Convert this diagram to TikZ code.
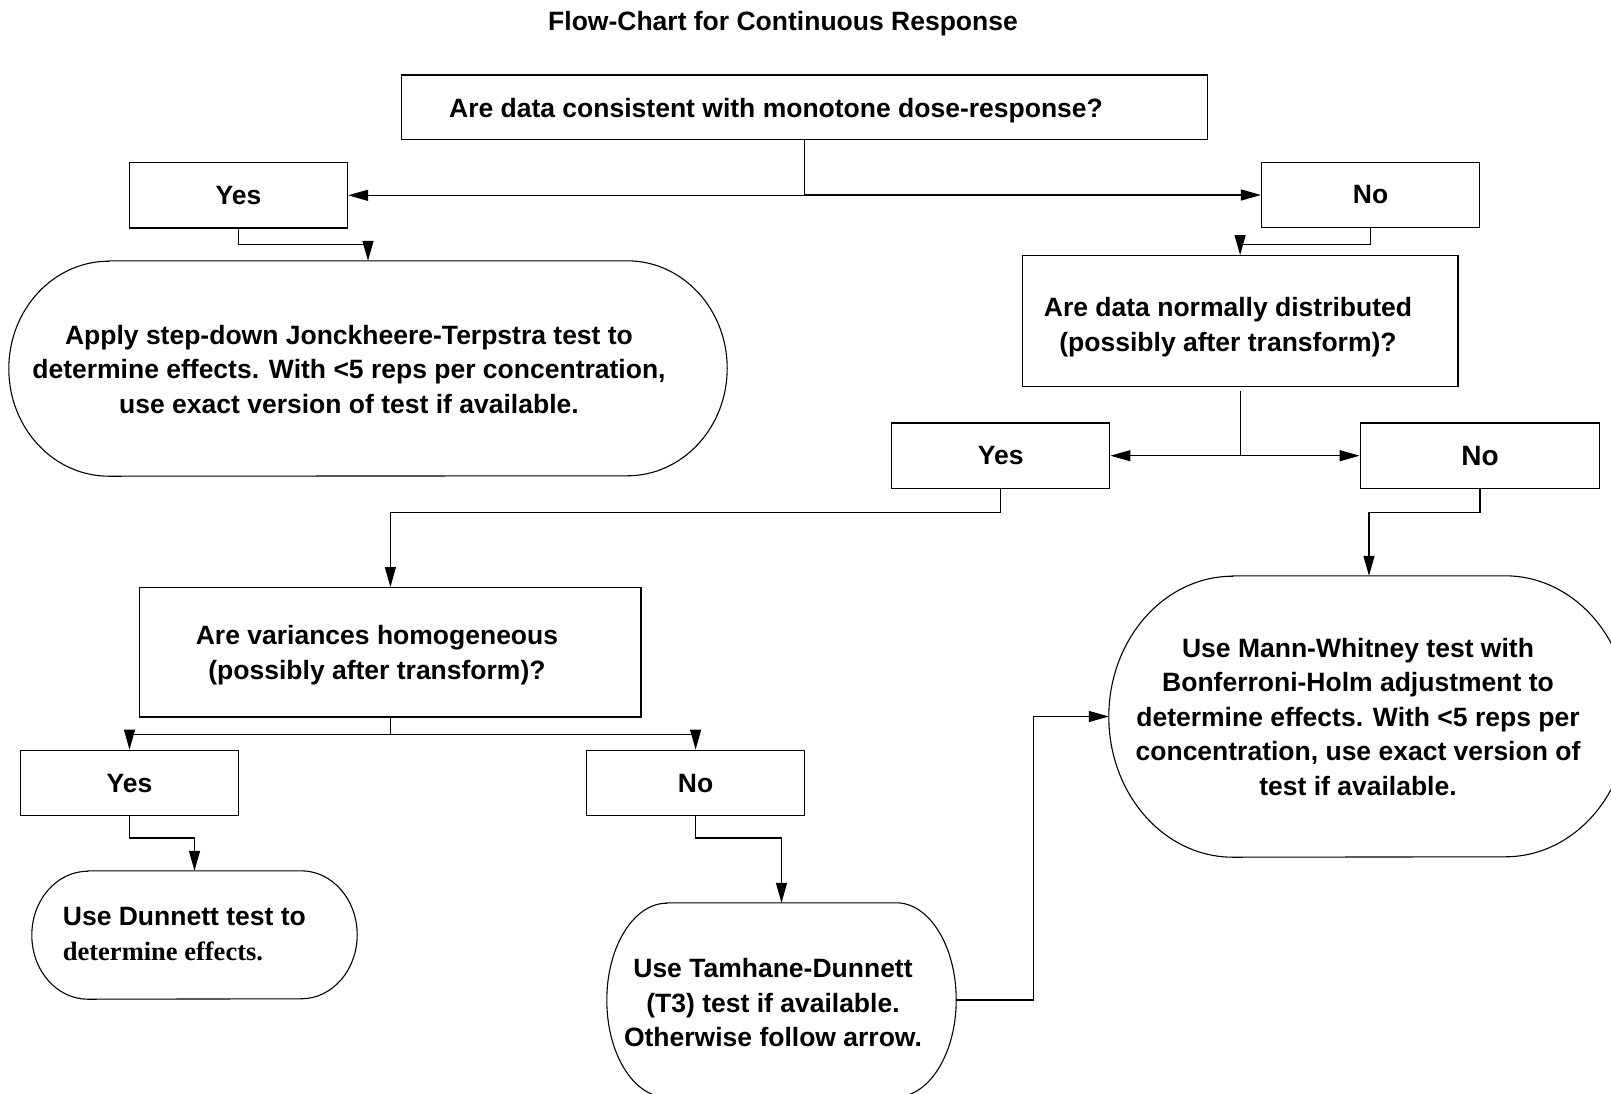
\documentclass[tikz,border=0pt]{standalone}
\usepackage{fontspec}
\setmainfont{Liberation Sans}
\newfontfamily\timesfont{Liberation Serif}
\usetikzlibrary{arrows.meta}
\newcommand\termoutline[3]{% node name, x radius, y radius
  \draw[termline] ([xshift=#2]#1.north west) -- ([xshift=-#2]#1.north east)
    arc[start angle=90,end angle=-90,x radius=#2,y radius=#3]
    -- ([xshift=#2]#1.south west)
    arc[start angle=270,end angle=90,x radius=#2,y radius=#3] -- cycle;}
\begin{document}
\begin{tikzpicture}[x=1pt,y=-1pt,
  txt/.style={font=\fontsize{26.5}{34.5}\selectfont\bfseries, align=center, inner sep=0pt},
  frame/.style={draw, line width=1.3pt, inner sep=0pt},
  yn/.style={frame, minimum width=218pt, minimum height=65.5pt, font=\fontsize{26.5}{34.5}\selectfont\bfseries},
  term/.style={inner sep=0pt},
  termline/.style={line width=1.1pt},
  conn/.style={line width=1.2pt},
  arr/.style={conn, -{Triangle[length=20pt,width=11pt]}},
]
\useasboundingbox (0,0) rectangle (1611,1093);
\clip (0,0) rectangle (1611,1093);
\fill[white] (0,0) rectangle (1611,1093);

% title
\node[txt] (title) at (783,24) {Flow-Chart for Continuous Response};

% top question
\node[frame, minimum width=805.6pt, minimum height=64.7pt] (a) at (804.5,107.4) {};
\node[txt] (atext) at (776,111) {Are data consistent with monotone dose-response?};

\node[yn] (y1) at (238.5,195.3) {Yes};
\node[yn] (n1) at (1370.6,195) {\raisebox{-1pt}{No}};

% Jonckheere terminator
\node[term, minimum width=718pt, minimum height=215pt] (s1) at (368,368.5) {};
\termoutline{s1}{100pt}{107.5pt}
\node[txt] (s1text) at (349,369.5) {Apply step-down Jonckheere-Terpstra test to\\determine effects. With <5 reps per concentration,\\use exact version of test if available.};

% normality question
\node[frame, minimum width=435.6pt, minimum height=130.5pt] (b) at (1240.1,321) {};
\node[txt] (btext) at (1228,327) {Are data normally distributed\\(possibly after transform)?};

\node[yn] (y2) at (1000.7,455.7) {Yes};
\node[yn, minimum width=239.4pt, font=\fontsize{28}{34.5}\selectfont\bfseries] (n2) at (1480,455.7) {No};

% variance question
\node[frame, minimum width=501.4pt, minimum height=129.4pt] (c) at (390.4,652.4) {};
\node[txt] (ctext) at (377,655) {Are variances homogeneous\\(possibly after transform)?};

\node[yn] (y3) at (129.5,783) {Yes};
\node[yn] (n3) at (695.6,783) {No};

% Dunnett terminator
\node[term, minimum width=325pt, minimum height=128pt] (dn) at (194.5,935) {};
\termoutline{dn}{56pt}{64pt}
\node[txt, align=left, anchor=west] (dntext) at (62.7,934) {Use Dunnett test to\\{\timesfont determine effects.}};

% Tamhane terminator
\node[term, minimum width=349pt, minimum height=194pt] (tm) at (781.5,1000) {};
\termoutline{tm}{60pt}{97pt}
\node[txt] (tmtext) at (773,1003) {Use Tamhane-Dunnett\\(T3) test if available.\\Otherwise follow arrow.};

% Mann-Whitney terminator
\node[term, minimum width=520pt, minimum height=281pt] (mw) at (1369,716.5) {};
\termoutline{mw}{124pt}{140.5pt}
\node[txt] (mwtext) at (1358,717) {Use Mann-Whitney test with\\Bonferroni-Holm adjustment to\\determine effects. With <5 reps per\\concentration, use exact version of\\test if available.};

% connectors
\draw[arr] (a.south) |- (y1.east);
\draw[arr] (a.south) |- (n1.west);
\draw[arr] (y1.south) -- ++(0,16) -| (s1.north);
\draw[arr] (n1.south) -- ++(0,16) -| (b.north);
\draw[arr] ([yshift=-4pt]b.south) |- (y2.east);
\draw[arr] ([yshift=-4pt]b.south) |- (n2.west);
\draw[arr] (y2.south) -- ++(0,23) -| (c.north);
\draw[arr] (n2.south) -- ++(0,23) -| (mw.north);
\draw[arr] (c.south) -- ++(0,16.5) -| (y3.north);
\draw[arr] (c.south) -- ++(0,16.5) -| (n3.north);
\draw[arr] (y3.south) -- ++(0,21.5) -| (dn.north);
\draw[arr] (n3.south) -- ++(0,21.5) -| (tm.north);
\draw[arr] (tm.east) -- ++(77,0) |- (mw.west);
\end{tikzpicture}
\end{document}
